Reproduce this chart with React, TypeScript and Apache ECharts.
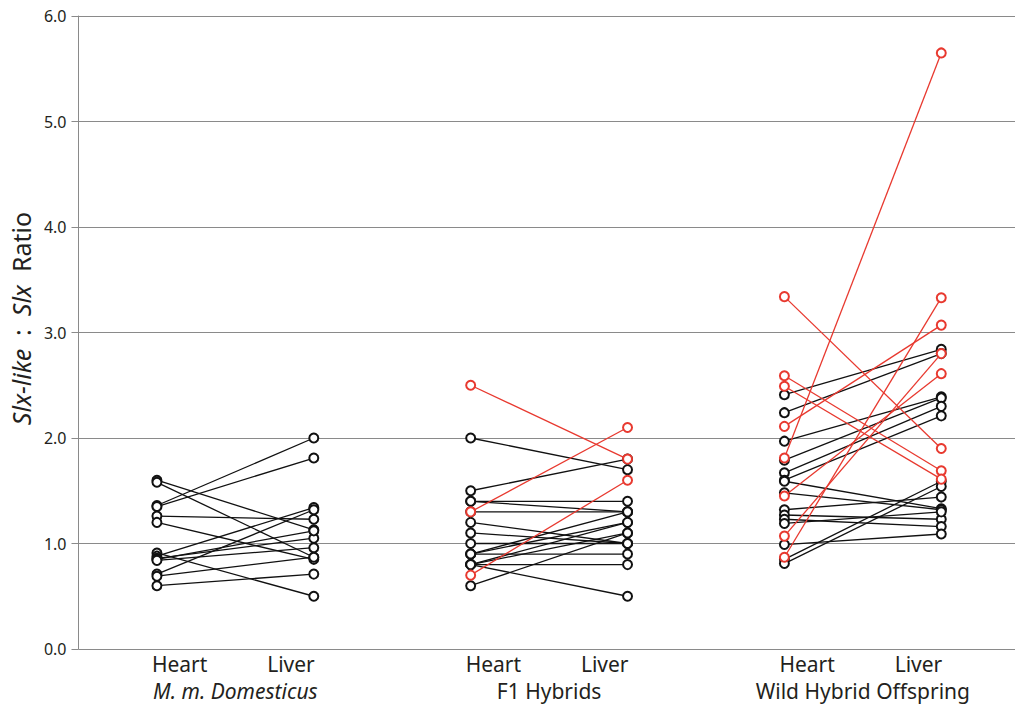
import React, { useEffect, useRef } from "react";
import * as echarts from "echarts";

// x positions of the six tissue columns
const columnX = [1, 2, 3, 4, 5, 6];
const tissueLabels = ["Heart", "Liver", "Heart", "Liver", "Heart", "Liver"];
const groupLabels = ["M. m. Domesticus", "F1 Hybrids", "Wild Hybrid Offspring"];
const yTicks = [0, 1, 2, 3, 4, 5, 6];

// M. m. Domesticus (all black)
const domHeart = [1.60, 1.58, 1.36, 1.35, 1.26, 1.20, 0.91, 0.88, 0.86, 0.85, 0.84, 0.71, 0.69, 0.60];
const domLiver = [1.13, 0.87, 2.00, 1.81, 1.23, 0.85, 0.50, 1.34, 1.05, 1.12, 0.96, 1.32, 0.87, 0.71];

// F1 Hybrids
const f1BlackHeart = [2.0, 1.5, 1.4, 1.4, 1.3, 1.2, 1.1, 1.0, 0.9, 0.9, 0.9, 0.8, 0.8, 0.8, 0.8, 0.6];
const f1BlackLiver = [1.7, 1.8, 1.4, 1.3, 1.3, 1.0, 1.0, 1.0, 1.3, 1.2, 0.9, 1.2, 1.1, 0.8, 0.5, 1.1];
const f1RedHeart = [2.5, 1.3, 0.7];
const f1RedLiver = [1.8, 2.1, 1.6];

// Wild Hybrid Offspring
const wildBlackHeart = [2.41, 2.24, 1.97, 1.79, 1.67, 1.60, 1.59, 1.48, 1.32, 1.27, 1.23, 1.19, 0.99, 0.85, 0.81];
const wildBlackLiver = [2.84, 2.80, 2.39, 2.38, 2.30, 2.21, 1.33, 1.32, 1.44, 1.23, 1.16, 1.30, 1.09, 1.59, 1.54];
const wildRedHeart = [3.34, 2.59, 2.49, 2.11, 1.81, 1.45, 1.07, 0.87];
const wildRedLiver = [1.90, 1.69, 1.61, 3.07, 5.65, 2.61, 2.80, 3.33];

const BLACK = "#111111";
const RED = "#e8392f";
const FONT = "'Noto Sans', sans-serif";
const TEXT = "#231f20";

function pairSeries(heart: number[], liver: number[], hx: number, lx: number, color: string) {
  return heart.map((h, i) => ({
    type: "line" as const,
    data: [
      [hx, h],
      [lx, liver[i]],
    ],
    symbol: "emptyCircle",
    symbolSize: 9,
    showSymbol: true,
    silent: true,
    z: color === RED ? 3 : 2,
    lineStyle: { color, width: 1.3 },
    itemStyle: { color, borderColor: color, borderWidth: 1.3 },
  }));
}

export default function App() {
  const ref = useRef<HTMLDivElement>(null);

  useEffect(() => {
    document.body.style.margin = "0";
    const chart = echarts.init(ref.current!, null, { renderer: "svg" });
    const series = [
      ...pairSeries(domHeart, domLiver, columnX[0], columnX[1], BLACK),
      ...pairSeries(f1BlackHeart, f1BlackLiver, columnX[2], columnX[3], BLACK),
      ...pairSeries(wildBlackHeart, wildBlackLiver, columnX[4], columnX[5], BLACK),
      ...pairSeries(f1RedHeart, f1RedLiver, columnX[2], columnX[3], RED),
      ...pairSeries(wildRedHeart, wildRedLiver, columnX[4], columnX[5], RED),
    ];
    chart.setOption({
      animation: false,
      backgroundColor: "#ffffff",
      grid: { left: 77, right: 0, top: 16, bottom: 56, containLabel: false },
      xAxis: {
        type: "value",
        min: 0.5,
        max: 6.47,
        show: false,
      },
      yAxis: {
        type: "value",
        min: yTicks[0],
        max: yTicks[yTicks.length - 1],
        interval: 1,
        axisLine: { show: true, lineStyle: { color: "#8a8a8a", width: 1 } },
        axisTick: { show: true, length: 7, lineStyle: { color: "#8a8a8a" } },
        splitLine: { show: true, lineStyle: { color: "#8a8a8a", width: 1 } },
        axisLabel: {
          formatter: (v: number) => v.toFixed(1),
          color: TEXT,
          fontSize: 16,
          fontFamily: FONT,
          margin: 12,
        },
        name: "{i|Slx-like}  :  {i|Slx}  Ratio",
        nameLocation: "middle",
        nameRotate: 90,
        nameGap: 40,
        nameTextStyle: {
          color: TEXT,
          fontSize: 25,
          fontFamily: FONT,
          padding: [0, 0, 0, 28],
          rich: {
            i: { fontStyle: "italic", fontSize: 25, fontFamily: FONT, color: TEXT },
          },
        },
      },
      series,
    });

    const px = columnX.map((x) => chart.convertToPixel({ xAxisIndex: 0 }, x) as number);
    const graphic: any[] = [];
    tissueLabels.forEach((t, i) => {
      const isHeart = i % 2 === 0;
      graphic.push({
        type: "text",
        x: isHeart ? px[i] - 5 : px[i] + 1,
        y: 664,
        style: {
          text: t,
          fill: TEXT,
          font: `21px ${FONT}`,
          align: isHeart ? "left" : "right",
          verticalAlign: "middle",
        },
      });
    });
    groupLabels.forEach((g, i) => {
      const cx = (px[i * 2] + px[i * 2 + 1]) / 2;
      graphic.push({
        type: "text",
        x: cx,
        y: 691,
        style: {
          text: g,
          fill: TEXT,
          font: `${i === 0 ? "italic " : ""}21px ${FONT}`,
          align: "center",
          verticalAlign: "middle",
        },
      });
    });
    chart.setOption({ graphic });

    return () => chart.dispose();
  }, []);

  return (
    <div
      ref={ref}
      style={{ position: "absolute", left: 0, top: 0, width: 1015, height: 705 }}
    />
  );
}
